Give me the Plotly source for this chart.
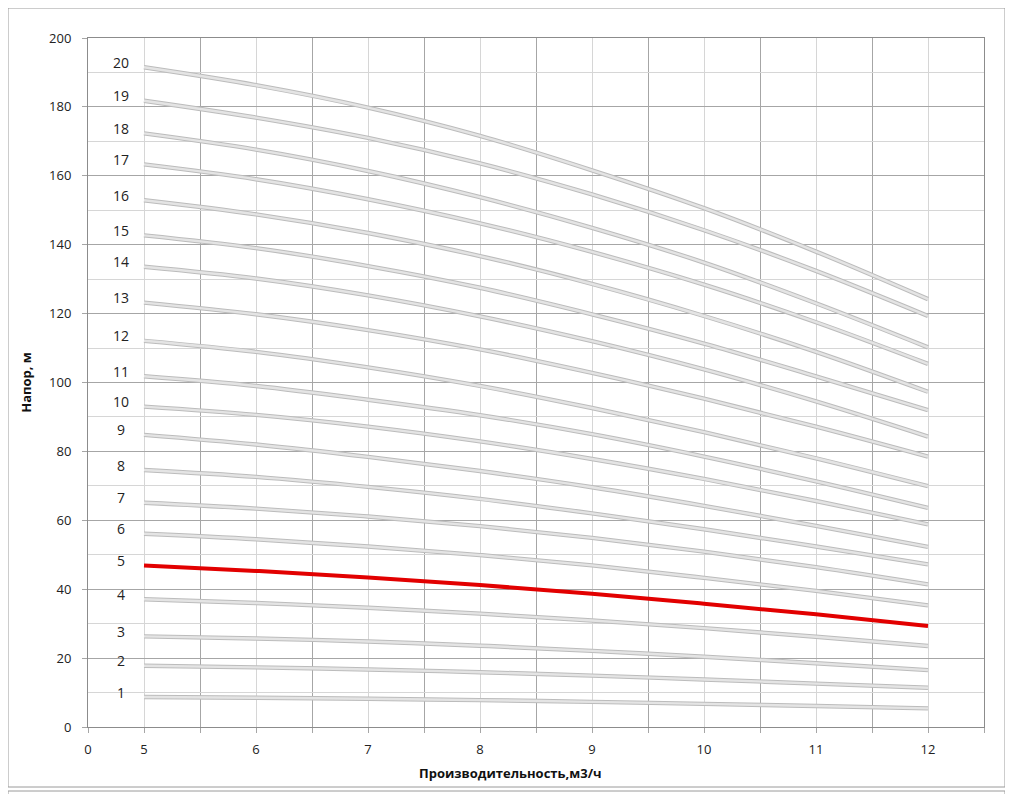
import plotly.graph_objects as go

# ---- data ----
flow = [5, 6, 7, 8, 9, 10, 11, 12]
stage_names = [str(i) for i in range(1, 21)]
head = {
    "1":  [8.7, 8.5, 8.2, 7.8, 7.3, 6.7, 6.1, 5.4],
    "2":  [17.8, 17.3, 16.7, 15.9, 14.9, 13.8, 12.6, 11.4],
    "3":  [26.3, 25.7, 24.8, 23.6, 22.1, 20.4, 18.5, 16.5],
    "4":  [37.1, 36.0, 34.6, 32.9, 30.9, 28.7, 26.2, 23.5],
    "5":  [46.9, 45.3, 43.4, 41.2, 38.7, 35.8, 32.7, 29.3],
    "6":  [56.1, 54.5, 52.4, 49.9, 46.9, 43.3, 39.5, 35.3],
    "7":  [65.1, 63.4, 61.1, 58.3, 54.9, 50.9, 46.4, 41.4],
    "8":  [74.6, 72.6, 69.7, 66.2, 62.0, 57.4, 52.4, 47.2],
    "9":  [84.8, 82.0, 78.4, 74.3, 69.6, 64.2, 58.4, 52.3],
    "10": [93.0, 90.6, 87.2, 82.9, 77.8, 72.0, 65.6, 58.8],
    "11": [101.8, 99.0, 95.0, 90.5, 85.0, 78.5, 71.3, 63.6],
    "12": [112.1, 108.9, 104.4, 99.0, 92.6, 85.6, 78.0, 69.9],
    "13": [123.2, 119.8, 115.2, 109.6, 102.8, 95.3, 87.2, 78.5],
    "14": [133.6, 130.2, 125.3, 119.2, 112.0, 103.8, 94.5, 84.3],
    "15": [142.7, 139.0, 133.8, 127.5, 119.8, 111.3, 101.8, 92.0],
    "16": [152.9, 148.8, 143.4, 136.7, 128.6, 119.3, 108.9, 97.3],
    "17": [163.3, 159.0, 153.2, 146.2, 137.9, 128.4, 117.5, 105.4],
    "18": [172.3, 167.6, 161.4, 153.8, 144.9, 134.8, 123.0, 110.2],
    "19": [181.8, 176.9, 171.0, 163.6, 154.6, 144.2, 132.4, 119.3],
    "20": [191.5, 186.3, 179.8, 171.6, 161.6, 150.6, 138.0, 124.2],
}
highlight = "5"
x_tick_values = [4.5, 5, 6, 7, 8, 9, 10, 11, 12]
x_tick_labels = ["0", "5", "6", "7", "8", "9", "10", "11", "12"]
x_title = "Производительность,м3/ч"
y_title = "Напор, м"

FONT = "Open Sans"
DARK_GRID = "#a6a6a6"
LIGHT_GRID = "#d6d6d6"

# page layout (the html body adds an 8px offset)
PLOT_L, PLOT_R, PLOT_T, PLOT_B = 88, 984, 38, 727
PW, PH = PLOT_R - PLOT_L, PLOT_B - PLOT_T


def px(page_x):
    return (page_x - PLOT_L) / PW


def py(page_y):
    return (PLOT_B - page_y) / PH


fig = go.Figure()
for name in stage_names:
    ys = head[name]
    if name == highlight:
        fig.add_trace(go.Scatter(x=flow, y=ys, mode="lines",
                                 line=dict(color="#e20000", width=4, shape="spline"),
                                 hoverinfo="skip", showlegend=False))
    else:
        fig.add_trace(go.Scatter(x=flow, y=ys, mode="lines",
                                 line=dict(color="#bcbcbc", width=4.4, shape="spline"),
                                 hoverinfo="skip", showlegend=False))
        fig.add_trace(go.Scatter(x=flow, y=ys, mode="lines",
                                 line=dict(color="#e4e4e4", width=2.4, shape="spline"),
                                 hoverinfo="skip", showlegend=False))
    fig.add_annotation(x=flow[0], y=ys[0], text=name, showarrow=False,
                       xshift=-23, yshift=5,
                       font=dict(family=FONT, size=14, color="#222222"))

fig.add_annotation(xref="paper", yref="paper", x=px(510), y=py(773),
                   xanchor="center", yanchor="middle",
                   text="<b>" + x_title + "</b>", showarrow=False,
                   font=dict(family=FONT, size=13, color="#111111"))

# chart area border
fig.add_shape(type="rect", xref="paper", yref="paper",
              x0=px(8), x1=px(1005), y0=py(787), y1=py(8),
              line=dict(color="#9a9a9a", width=1))
fig.add_shape(type="rect", xref="paper", yref="paper",
              x0=px(8), x1=px(1005), y0=py(810), y1=py(791),
              line=dict(color="#9a9a9a", width=1))

W, H = 1000, 786
fig.update_layout(
    width=W, height=H,
    margin=dict(l=PLOT_L - 8, r=8 + W - PLOT_R, t=PLOT_T - 8, b=8 + H - PLOT_B),
    paper_bgcolor="white", plot_bgcolor="white",
    font=dict(family=FONT, size=12, color="#222222"),
    showlegend=False,
    xaxis=dict(
        range=[4.5, 12.5], tickmode="array",
        tickvals=x_tick_values, ticktext=x_tick_labels,
        showgrid=True, gridcolor=LIGHT_GRID, gridwidth=1,
        ticks="outside", ticklen=5, tickcolor=DARK_GRID,
        ticklabelstandoff=5,
        showline=True, linecolor="#8c8c8c", linewidth=1, mirror=True,
        zeroline=False,
        tickfont=dict(family=FONT, size=13, color="#222222"),
        minor=dict(tickvals=[5.5, 6.5, 7.5, 8.5, 9.5, 10.5, 11.5, 12.5],
                   showgrid=True, gridcolor=DARK_GRID, gridwidth=1,
                   ticks="outside", ticklen=5, tickcolor=DARK_GRID),
    ),
    yaxis=dict(
        range=[0, 200], tickmode="linear", tick0=0, dtick=20,
        showgrid=True, gridcolor=DARK_GRID, gridwidth=1,
        ticks="outside", ticklen=5, tickcolor=DARK_GRID,
        ticklabelstandoff=8,
        showline=True, linecolor="#8c8c8c", linewidth=1, mirror=True,
        zeroline=False,
        tickfont=dict(family=FONT, size=13, color="#222222"),
        title=dict(text="<b>" + y_title + "</b>", standoff=14,
                   font=dict(family=FONT, size=13, color="#111111")),
        minor=dict(dtick=10, showgrid=True, gridcolor=LIGHT_GRID, gridwidth=1,
                   ticks=""),
    ),
)

fig.write_html("out.html")
